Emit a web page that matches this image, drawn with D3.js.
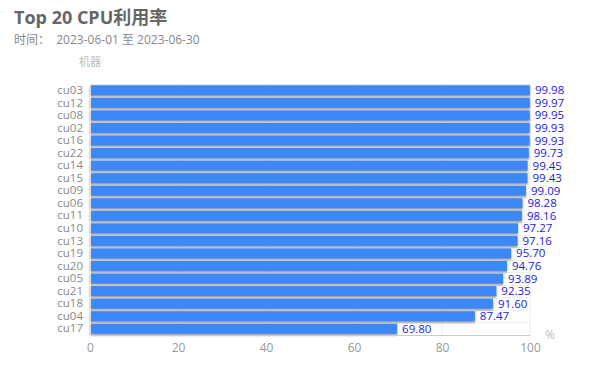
<!DOCTYPE html>
<html>
<head>
<meta charset="utf-8">
<script src="https://cdn.jsdelivr.net/npm/d3@7"></script>
<style>
  body { margin: 0; background: #fff; font-family: "Open Sans", "Noto Sans CJK SC", sans-serif; }
</style>
</head>
<body>
<div id="chart-area"></div>
<script>
const MARGIN = { LEFT: 90, RIGHT: 60, TOP: 84, BOTTOM: 50 }
const WIDTH = 590 - MARGIN.LEFT - MARGIN.RIGHT
const HEIGHT = 385 - MARGIN.TOP - MARGIN.BOTTOM
const FONT = "'Open Sans', 'Noto Sans CJK SC', sans-serif"

const machines = ["cu03", "cu12", "cu08", "cu02", "cu16", "cu22", "cu14", "cu15", "cu09", "cu06",
  "cu11", "cu10", "cu13", "cu19", "cu20", "cu05", "cu21", "cu18", "cu04", "cu17"]
const cpuRate = [99.98, 99.97, 99.95, 99.93, 99.93, 99.73, 99.45, 99.43, 99.09, 98.28,
  98.16, 97.27, 97.16, 95.70, 94.76, 93.89, 92.35, 91.60, 87.47, 69.80]
const xTicks = [0, 20, 40, 60, 80, 100]

const svg = d3.select("#chart-area").append("svg")
  .attr("width", 590)
  .attr("height", 385)
  .attr("font-family", FONT)

// bar shadow
const defs = svg.append("defs")
const f = defs.append("filter").attr("id", "shadow")
  .attr("x", "-5%").attr("y", "-60%").attr("width", "110%").attr("height", "220%")
f.append("feDropShadow")
  .attr("dx", 0).attr("dy", 1.5).attr("stdDeviation", 0.9)
  .attr("flood-color", "#777").attr("flood-opacity", 0.8)

// title
svg.append("text")
  .attr("x", 14).attr("y", 24)
  .attr("font-size", "18px").attr("font-weight", "bold")
  .attr("fill", "#666")
  .text("Top 20 CPU利用率")

svg.append("text")
  .attr("x", 14).attr("y", 44)
  .attr("font-size", "12px").attr("fill", "#888")
  .attr("xml:space", "preserve")
  .text("时间：  2023-06-01 至 2023-06-30")

const g = svg.append("g")
  .attr("transform", `translate(${MARGIN.LEFT}, ${MARGIN.TOP})`)

const x = d3.scaleLinear()
  .domain([0, 100])
  .range([0, WIDTH])

const y = d3.scaleBand()
  .domain(machines)
  .range([0, HEIGHT])
  .paddingInner(0.2)
  .paddingOuter(0.1)

// grid lines
g.selectAll("line.vgrid")
  .data(xTicks.slice(1))
  .enter().append("line")
  .attr("class", "vgrid")
  .attr("x1", d => x(d)).attr("x2", d => x(d))
  .attr("y1", 0).attr("y2", HEIGHT)
  .attr("stroke", "#eee")

g.selectAll("line.hgrid")
  .data(d3.range(machines.length + 1))
  .enter().append("line")
  .attr("class", "hgrid")
  .attr("x1", 0).attr("x2", WIDTH)
  .attr("y1", i => Math.round(i * HEIGHT / machines.length) + 0.5)
  .attr("y2", i => Math.round(i * HEIGHT / machines.length) + 0.5)
  .attr("stroke", "#eee")

// bars
g.selectAll("rect.bar")
  .data(machines)
  .enter().append("rect")
  .attr("class", "bar")
  .attr("x", 0)
  .attr("y", (d, i) => y(d))
  .attr("width", (d, i) => x(cpuRate[i]))
  .attr("height", y.bandwidth())
  .attr("fill", "#3b88f6")
  .attr("filter", "url(#shadow)")

// value labels
g.selectAll("text.val")
  .data(machines)
  .enter().append("text")
  .attr("class", "val")
  .attr("x", (d, i) => x(cpuRate[i]) + 5)
  .attr("y", d => y(d) + y.bandwidth() / 2)
  .attr("dy", "0.35em")
  .attr("font-size", "11.5px")
  .attr("fill", "#1a1ae6")
  .text((d, i) => cpuRate[i].toFixed(2))

// y axis
const yAxisGroup = g.append("g")
  .call(d3.axisLeft(y).tickSize(0).tickPadding(7))
yAxisGroup.select(".domain").attr("stroke", "#ddd")
yAxisGroup.selectAll("text")
  .attr("font-size", "11.5px")
  .attr("font-family", FONT)
  .attr("fill", "#888")

// x axis
const xAxisGroup = g.append("g")
  .attr("transform", `translate(0, ${HEIGHT})`)
  .call(d3.axisBottom(x).tickValues(xTicks).tickSize(0).tickPadding(8))
xAxisGroup.select(".domain").attr("stroke", "#ccc")
xAxisGroup.selectAll("text")
  .attr("font-size", "12px")
  .attr("font-family", FONT)
  .attr("fill", "#999")

// axis names
g.append("text")
  .attr("x", 0).attr("y", -18)
  .attr("text-anchor", "middle")
  .attr("font-size", "11px").attr("fill", "#bbb")
  .text("机器")

g.append("text")
  .attr("x", WIDTH + 15).attr("y", HEIGHT + 4)
  .attr("font-size", "12px").attr("fill", "#bbb")
  .text("%")
</script>
</body>
</html>
